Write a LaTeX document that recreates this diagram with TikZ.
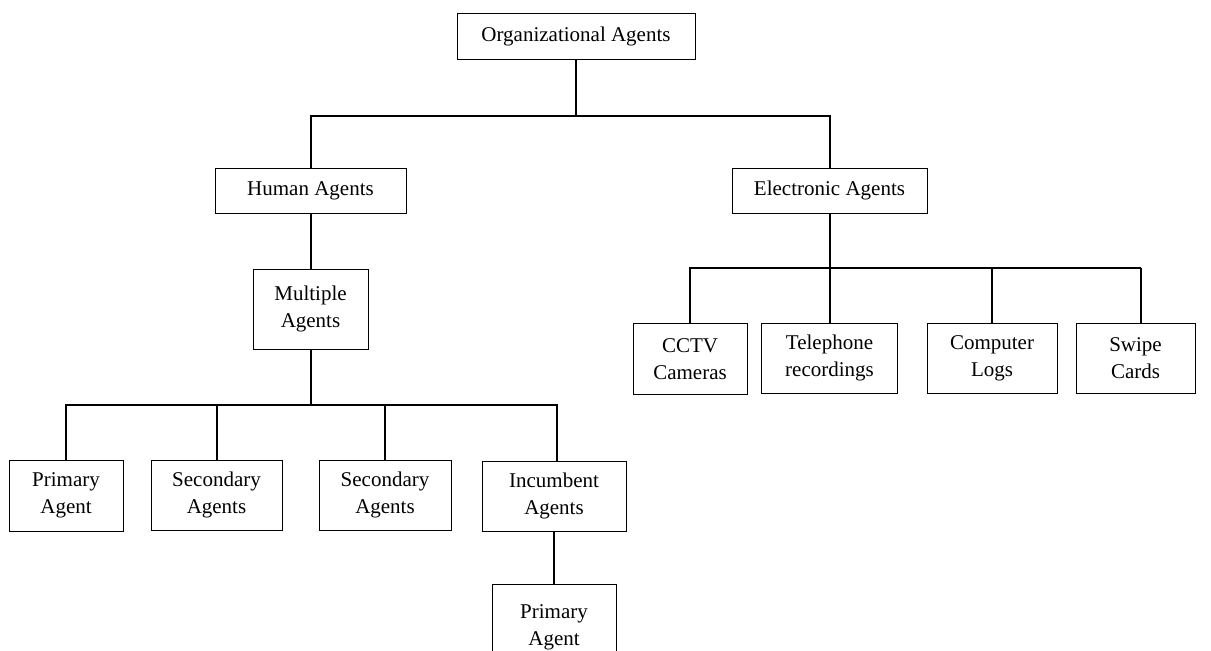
\documentclass[tikz,border=0pt]{standalone}
\usepackage{fontspec}
\setmainfont{Liberation Serif}
\begin{document}
\begin{tikzpicture}[x=1pt,y=-1pt,
  box/.style={draw, line width=0.9pt, inner sep=0pt, align=center, font=\fontsize{21}{27}\selectfont},
  conn/.style={line width=2pt}]
\clip (0,0) rectangle (1211,651);
% nodes
\node[box, minimum width=238, minimum height=46] (org) at (576,36) {Organizational Agents};
\node[box, minimum width=191, minimum height=45] (hum) at (310.5,190.5) {Human Agents};
\node[box, minimum width=195, minimum height=45] (elec) at (829.5,190.5) {Electronic Agents};
\node[box, minimum width=115, minimum height=80] (multi) at (310.5,309) {Multiple\\Agents};
\node[box, minimum width=114, minimum height=71] (cctv) at (690,359) {CCTV\\Cameras};
\node[box, minimum width=136, minimum height=70] (tel) at (829.5,358) {Telephone\\recordings};
\node[box, minimum width=130, minimum height=70] (comp) at (992,358) {Computer\\Logs};
\node[box, minimum width=119, minimum height=70] (swipe) at (1135.5,358) {Swipe\\Cards};
\node[box, minimum width=114, minimum height=71] (p1) at (66,495.5) {Primary\\Agent};
\node[box, minimum width=131, minimum height=70] (s1) at (216.5,495) {Secondary\\Agents};
\node[box, minimum width=132, minimum height=70] (s2) at (385,495) {Secondary\\Agents};
\node[box, minimum width=144, minimum height=70] (inc) at (554,496) {Incumbent\\Agents};
\node[box, minimum width=124, minimum height=85, anchor=north] (p2) at (554,584) {Primary\\Agent};
% bus coordinates
\coordinate (b1) at (576,116);
\coordinate (b2) at (829.5,268);
\coordinate (b2r) at (1141,268);
\coordinate (b3) at (310.5,405);
\coordinate (b3r) at (557,405);
% connectors
\draw[conn] (org.south) -- (b1);
\draw[conn] (hum.north) |- (b1) -| (elec.north);
\draw[conn] (hum.south) -- (multi.north);
\draw[conn] (elec.south) -- (b2);
\draw[conn] (cctv.north) |- (b2r);
\draw[conn] (tel.north) -- (tel.north |- b2);
\draw[conn] (comp.north) -- (comp.north |- b2);
\draw[conn] (b2r) -- (b2r |- swipe.north);
\draw[conn] (multi.south) -- (b3);
\draw[conn] (p1.north) |- (b3r) -- (b3r |- inc.north);
\draw[conn] (s1.north) -- (s1.north |- b3);
\draw[conn] (s2.north) -- (s2.north |- b3);
\draw[conn] (inc.south) -- (p2.north);
\end{tikzpicture}
\end{document}
